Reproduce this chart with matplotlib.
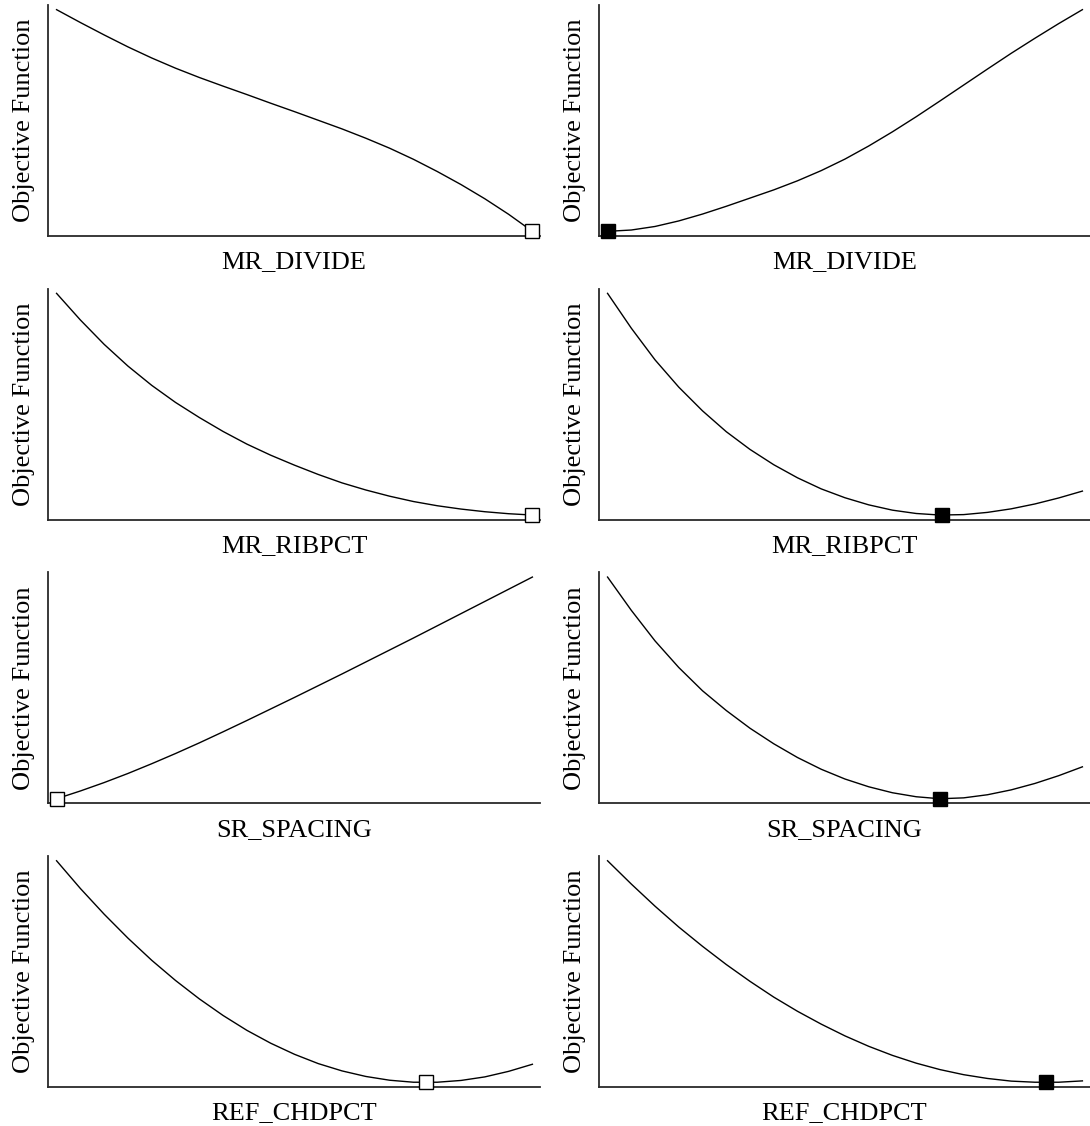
import matplotlib
matplotlib.use("Agg")
import matplotlib.pyplot as plt

plt.rcParams["font.family"] = ["Liberation Serif", "DejaVu Serif"]

# Normalised parameter sweep (0 = lower bound, 1 = upper bound)
sweep = [0.00, 0.05, 0.10, 0.15, 0.20, 0.25, 0.30, 0.35, 0.40, 0.45, 0.50,
         0.55, 0.60, 0.65, 0.70, 0.75, 0.80, 0.85, 0.90, 0.95, 1.00]

parameters = ["MR_DIVIDE", "MR_RIBPCT", "SR_SPACING", "REF_CHDPCT"]
y_label = "Objective Function"

# Normalised objective values, first case (left column)
case1_mr_divide = [1.000, 0.942, 0.886, 0.832, 0.782, 0.736, 0.694, 0.655, 0.617, 0.578, 0.540,
                   0.501, 0.462, 0.420, 0.375, 0.325, 0.270, 0.211, 0.147, 0.077, 0.000]
case1_mr_ribpct = [1.000, 0.880, 0.770, 0.672, 0.585, 0.508, 0.440, 0.377, 0.320, 0.270, 0.225,
                   0.183, 0.145, 0.113, 0.085, 0.061, 0.042, 0.027, 0.015, 0.006, 0.000]
case1_sr_spacing = [0.000, 0.035, 0.073, 0.114, 0.158, 0.204, 0.252, 0.302, 0.353, 0.405, 0.457,
                    0.510, 0.563, 0.617, 0.671, 0.725, 0.780, 0.835, 0.890, 0.945, 1.000]
case1_ref_chdpct = [1.000, 0.875, 0.759, 0.651, 0.551, 0.460, 0.377, 0.302, 0.235, 0.177, 0.127,
                    0.085, 0.052, 0.027, 0.010, 0.001, 0.001, 0.009, 0.025, 0.050, 0.082]

# Normalised objective values, second case (right column)
case2_mr_divide = [0.000, 0.006, 0.022, 0.047, 0.078, 0.113, 0.150, 0.187, 0.228, 0.274, 0.326,
                   0.385, 0.449, 0.517, 0.588, 0.660, 0.732, 0.803, 0.871, 0.937, 1.000]
case2_mr_ribpct = [1.000, 0.843, 0.700, 0.577, 0.470, 0.376, 0.296, 0.227, 0.168, 0.118, 0.078,
                   0.046, 0.022, 0.007, 0.000, 0.002, 0.012, 0.028, 0.050, 0.077, 0.108]
case2_sr_spacing = [1.000, 0.850, 0.712, 0.592, 0.487, 0.398, 0.318, 0.248, 0.186, 0.133, 0.089,
                    0.054, 0.027, 0.009, 0.000, 0.004, 0.018, 0.040, 0.069, 0.104, 0.144]
case2_ref_chdpct = [1.000, 0.895, 0.795, 0.701, 0.614, 0.532, 0.456, 0.385, 0.321, 0.263, 0.210,
                    0.163, 0.122, 0.087, 0.058, 0.035, 0.018, 0.006, 0.001, 0.001, 0.007]

# Optimum location for each parameter
case1_opt_x = [1.000, 1.000, 0.000, 0.777]
case1_opt_y = [0.000, 0.000, 0.000, 0.000]
case2_opt_x = [0.000, 0.705, 0.700, 0.923]
case2_opt_y = [0.000, 0.000, 0.000, 0.000]

case1 = [case1_mr_divide, case1_mr_ribpct, case1_sr_spacing, case1_ref_chdpct]
case2 = [case2_mr_divide, case2_mr_ribpct, case2_sr_spacing, case2_ref_chdpct]

W, H = 1090, 1126
fig = plt.figure(figsize=(W / 100, H / 100), dpi=100)

spine_color = "#2a2a2a"


def draw_panel(rect, values, px, py, filled, xlabel):
    ax = fig.add_axes(rect)
    ax.plot(sweep, values, color="black", lw=1.0, solid_joinstyle="round")
    ax.plot(px, py, linestyle="none", marker="s", markersize=10.5,
            markerfacecolor="black" if filled else "white",
            markeredgecolor="black", markeredgewidth=1.0, clip_on=False, zorder=5)
    ax.set_xlim(-0.018, 1.016)
    ax.set_ylim(-0.021, 1.021)
    ax.set_xticks([])
    ax.set_yticks([])
    for side in ("top", "right"):
        ax.spines[side].set_visible(False)
    for side in ("left", "bottom"):
        ax.spines[side].set_color(spine_color)
        ax.spines[side].set_linewidth(1.3)
    ax.set_xlabel(xlabel, fontsize=19, labelpad=11)
    ax.set_ylabel(y_label, fontsize=19, labelpad=9)
    return ax


panel_h = 231
for r, name in enumerate(parameters):
    top = 5 + r * 283.7
    y0 = 1 - (top + panel_h) / H
    draw_panel([48 / W, y0, 492 / W, panel_h / H], case1[r],
               [case1_opt_x[r]], [case1_opt_y[r]], False, name)
    draw_panel([599 / W, y0, 491 / W, panel_h / H], case2[r],
               [case2_opt_x[r]], [case2_opt_y[r]], True, name)

fig.savefig("out.png", dpi=100, facecolor="white")
